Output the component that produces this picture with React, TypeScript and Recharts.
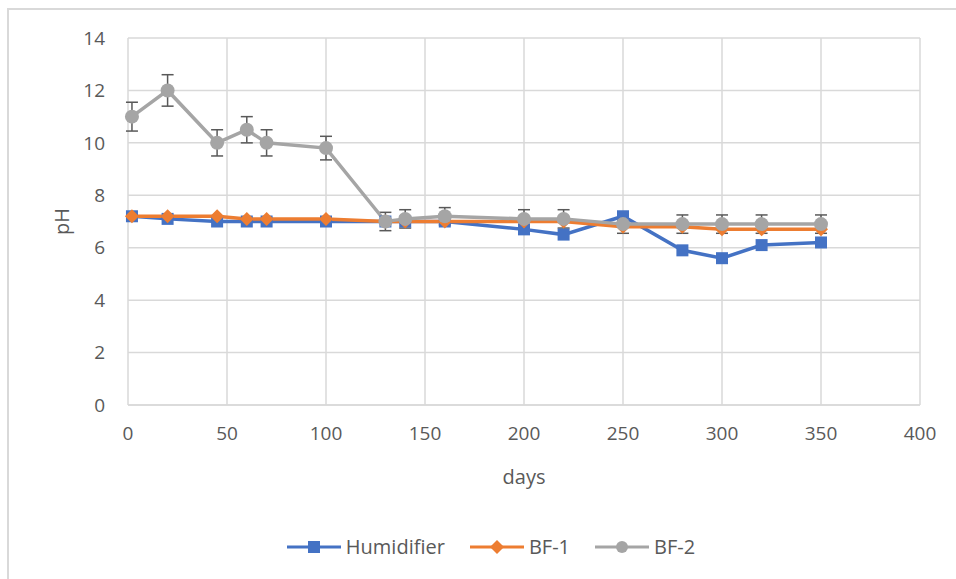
import React from 'react';
import {
  LineChart,
  Line,
  XAxis,
  YAxis,
  CartesianGrid,
  ErrorBar,
} from 'recharts';

const days = [2, 20, 45, 60, 70, 100, 130, 140, 160, 200, 220, 250, 280, 300, 320, 350];
const humidifier = [7.2, 7.1, 7.0, 7.0, 7.0, 7.0, 7.0, 7.0, 7.0, 6.7, 6.5, 7.2, 5.9, 5.6, 6.1, 6.2];
const humidifierErr = [0, 0, 0, 0, 0, 0, 0, 0, 0, 0, 0, 0, 0, 0.1, 0, 0];
const bf1 = [7.2, 7.2, 7.2, 7.1, 7.1, 7.1, 7.0, 7.0, 7.0, 7.0, 7.0, 6.8, 6.8, 6.7, 6.7, 6.7];
const bf2 = [11.0, 12.0, 10.0, 10.5, 10.0, 9.8, 7.0, 7.1, 7.2, 7.1, 7.1, 6.9, 6.9, 6.9, 6.9, 6.9];
const bf2Err = [0.55, 0.6, 0.5, 0.5, 0.5, 0.45, 0.35, 0.35, 0.33, 0.35, 0.35, 0.35, 0.35, 0.35, 0.35, 0.35];

const xTicks = [0, 50, 100, 150, 200, 250, 300, 350, 400];
const yTicks = [0, 2, 4, 6, 8, 10, 12, 14];

const BLUE = '#4472C4';
const ORANGE = '#ED7D31';
const GRAY = '#A5A5A5';
const TEXT = '#595959';
const FONT = '"Open Sans", sans-serif';

const data = days.map((d, i) => ({
  day: d,
  hum: humidifier[i],
  humErr: humidifierErr[i],
  bf1: bf1[i],
  bf2: bf2[i],
  bf2Err: bf2Err[i],
}));

const SquareDot = (props: any) => {
  const { cx, cy, index } = props;
  if (cx == null || cy == null) return null;
  return <rect key={`sq-${index}`} x={cx - 6} y={cy - 6} width={12} height={12} fill={BLUE} />;
};

const DiamondDot = (props: any) => {
  const { cx, cy, index } = props;
  if (cx == null || cy == null) return null;
  const r = 7;
  return (
    <polygon
      key={`dm-${index}`}
      points={`${cx},${cy - r} ${cx + r},${cy} ${cx},${cy + r} ${cx - r},${cy}`}
      fill={ORANGE}
    />
  );
};

const legendItems = [
  { name: 'Humidifier', color: BLUE, shape: 'square' },
  { name: 'BF-1', color: ORANGE, shape: 'diamond' },
  { name: 'BF-2', color: GRAY, shape: 'circle' },
];

function LegendIcon({ color, shape }: { color: string; shape: string }) {
  return (
    <svg width={56} height={14} style={{ display: 'block' }}>
      <line x1={1} y1={7} x2={55} y2={7} stroke={color} strokeWidth={3} />
      {shape === 'square' && <rect x={22} y={1} width={12} height={12} fill={color} />}
      {shape === 'diamond' && <polygon points="28,0 35,7 28,14 21,7" fill={color} />}
      {shape === 'circle' && <circle cx={28} cy={7} r={6} fill={color} />}
    </svg>
  );
}

export default function App() {
  return (
    <div
      style={{
        position: 'absolute',
        left: 0,
        top: 0,
        width: 956,
        height: 579,
        background: '#fff',
        overflow: 'hidden',
        fontFamily: FONT,
      }}
    >
      {/* chart frame, only top and left edges are visible */}
      <div
        style={{
          position: 'absolute',
          left: 7,
          top: 8,
          width: 980,
          height: 600,
          borderTop: '2px solid #d9d9d9',
          borderLeft: '2px solid #d9d9d9',
        }}
      />
      <div style={{ position: 'absolute', left: 0, top: 0 }}>
        <LineChart
          width={956}
          height={579}
          data={data}
          margin={{ top: 38, right: 36, bottom: 104, left: 20 }}
        >
          <CartesianGrid stroke="#d9d9d9" strokeWidth={1.5} />
          <XAxis
            type="number"
            dataKey="day"
            domain={[0, 400]}
            ticks={xTicks}
            height={70}
            tickLine={false}
            tickSize={0}
            tickMargin={22}
            axisLine={{ stroke: '#d9d9d9', strokeWidth: 1.5 }}
            tick={{ fontSize: 19, fill: TEXT, fontFamily: FONT }}
            label={{ value: 'days', position: 'center', dy: 37, fontSize: 20, fill: TEXT, fontFamily: FONT }}
          />
          <YAxis
            type="number"
            domain={[0, 14]}
            ticks={yTicks}
            width={108}
            tickLine={false}
            axisLine={false}
            tickSize={0}
            tickMargin={23}
            tick={{ fontSize: 19, fill: TEXT, fontFamily: FONT }}
            label={{ value: 'pH', angle: -90, position: 'center', dx: -12, fontSize: 20, fill: TEXT, fontFamily: FONT }}
          />
          <Line
            dataKey="hum"
            stroke={BLUE}
            strokeWidth={3.5}
            dot={SquareDot}
            isAnimationActive={false}
          >
            <ErrorBar dataKey="humErr" width={6} stroke={TEXT} strokeWidth={1.5} direction="y" />
          </Line>
          <Line
            dataKey="bf1"
            stroke={ORANGE}
            strokeWidth={3.5}
            dot={DiamondDot}
            isAnimationActive={false}
          />
          <Line
            dataKey="bf2"
            stroke={GRAY}
            strokeWidth={3.5}
            dot={{ r: 7, fill: GRAY, stroke: GRAY, strokeWidth: 0 }}
            isAnimationActive={false}
          >
            <ErrorBar dataKey="bf2Err" width={6} stroke={TEXT} strokeWidth={1.5} direction="y" />
          </Line>
        </LineChart>
      </div>
      {/* legend */}
      <div
        style={{
          position: 'absolute',
          left: 0,
          top: 533,
          width: 956,
          display: 'flex',
          justifyContent: 'center',
          alignItems: 'center',
          gap: 24,
          paddingLeft: 25,
          boxSizing: 'border-box',
        }}
      >
        {legendItems.map((item) => (
          <div key={item.name} style={{ display: 'flex', alignItems: 'center', gap: 4 }}>
            <LegendIcon color={item.color} shape={item.shape} />
            <span style={{ fontSize: 20, color: TEXT, lineHeight: '28px' }}>{item.name}</span>
          </div>
        ))}
      </div>
    </div>
  );
}
